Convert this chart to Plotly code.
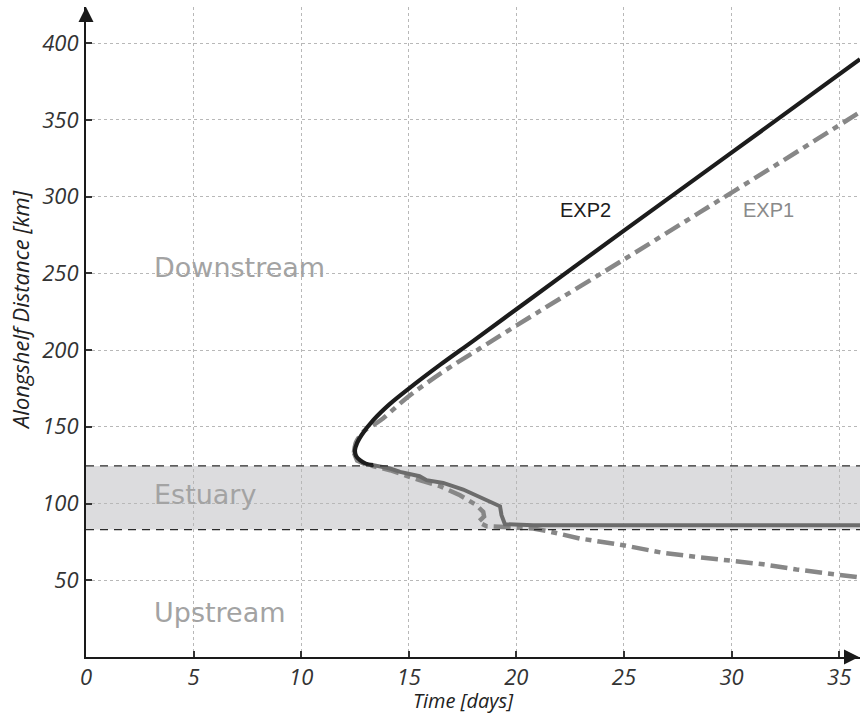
import plotly.graph_objects as go

# ---- data ----
exp2_upper_t = [13.35, 13.0, 12.73, 12.55, 12.5, 12.6, 12.8, 13.35, 14.1, 15.06, 16.45, 18.0, 20.48, 25.0, 30.0, 35.97]
exp2_upper_d = [125.0, 126.0, 128.2, 131.0, 134.7, 139.5, 144.5, 154.3, 164.6, 175.5, 190.3, 206.0, 231.5, 277.8, 328.6, 389.5]

exp2_lower_t = [13.35, 14.13, 14.6, 15.5, 15.83, 16.6, 17.53, 18.3, 19.24, 19.31, 19.47, 20.78, 35.97]
exp2_lower_d = [125.0, 122.8, 120.6, 117.8, 115.2, 113.4, 109.1, 104.3, 98.2, 92.4, 86.5, 85.9, 85.9]

exp1_upper_t = [12.45, 12.55, 12.9, 13.4, 13.8, 14.9, 16.45, 18.3, 21.1, 25.0, 28.5, 32.0, 35.97]
exp1_upper_d = [133.0, 140.0, 147.0, 151.5, 155.4, 168.8, 184.5, 201.0, 225.5, 259.0, 289.5, 320.0, 355.0]

exp1_lower_t = [12.45, 12.6, 13.0, 13.5, 14.13, 15.5, 16.45, 17.38, 18.15, 18.46, 18.5, 18.23, 18.62, 19.24, 20.78,
                21.4, 22.95, 24.97, 26.83, 28.38, 30.08, 31.47, 33.02, 34.57, 35.97]
exp1_lower_d = [133.0, 128.0, 125.5, 124.0, 121.7, 115.2, 111.3, 105.4, 98.9, 94.5, 91.5, 88.0, 85.2, 84.8, 83.7,
                82.2, 77.2, 72.8, 67.8, 65.2, 62.6, 60.4, 57.0, 53.9, 51.8]

estuary_bounds = [83.0, 124.5]
x_ticks = [0, 5, 10, 15, 20, 25, 30, 35]
y_ticks = [50, 100, 150, 200, 250, 300, 350, 400]
region_labels = ["Downstream", "Estuary", "Upstream"]
region_y = [254, 106, 29]
series_labels = ["EXP2", "EXP1"]

X_MAX = 35.97
Y_MAX = 423.5

fig = go.Figure()

dashdot = "17px,6px,6px,6px"
fig.add_trace(go.Scatter(x=exp1_lower_t, y=exp1_lower_d, mode="lines",
                         line=dict(color="#878787", width=4.5, dash=dashdot), hoverinfo="skip"))
fig.add_trace(go.Scatter(x=exp1_upper_t, y=exp1_upper_d, mode="lines",
                         line=dict(color="#878787", width=4.5, dash=dashdot, shape="spline", smoothing=0.8), hoverinfo="skip"))
fig.add_trace(go.Scatter(x=exp2_lower_t, y=exp2_lower_d, mode="lines",
                         line=dict(color="#6c6c6c", width=4), hoverinfo="skip"))
fig.add_trace(go.Scatter(x=exp2_upper_t, y=exp2_upper_d, mode="lines",
                         line=dict(color="#1c1c1c", width=4.2, shape="spline", smoothing=0.8), hoverinfo="skip"))

# estuary band
fig.add_shape(type="rect", xref="x", yref="y", x0=0, x1=X_MAX, y0=estuary_bounds[0], y1=estuary_bounds[1],
              fillcolor="#dcdcde", line=dict(width=0), layer="below")
for yb in estuary_bounds:
    fig.add_shape(type="line", xref="x", yref="y", x0=0, x1=X_MAX, y0=yb, y1=yb,
                  line=dict(color="#2a2a2a", width=1.3, dash="8px,6px"), layer="above")

font_hand = "DejaVu Sans"
for lab, yy in zip(region_labels, region_y):
    fig.add_annotation(x=3.05, y=yy, xref="x", yref="y", text=lab, showarrow=False, xanchor="left",
                       font=dict(family=font_hand, size=27, color="#a3a3a3"))

fig.add_annotation(x=23.2, y=291, xref="x", yref="y", text=series_labels[0], showarrow=False,
                   font=dict(family="Liberation Sans", size=20, color="#1c1c1c"))
fig.add_annotation(x=31.7, y=291, xref="x", yref="y", text=series_labels[1], showarrow=False,
                   font=dict(family="Liberation Sans", size=20, color="#8a8a8a"))

# axis arrows
fig.add_annotation(x=1, y=0, xref="paper", yref="paper", ax=-16, ay=0, text="", showarrow=True,
                   arrowhead=2, arrowsize=1.5, arrowwidth=2, arrowcolor="#1a1a1a")
fig.add_annotation(x=0, y=1, xref="paper", yref="paper", ax=0, ay=16, text="", showarrow=True,
                   arrowhead=2, arrowsize=1.5, arrowwidth=2, arrowcolor="#1a1a1a")

# axis titles
PW, PH = 860 - 86, 650
fig.add_annotation(x=(463 - 86) / PW, y=-43 / PH, xref="paper", yref="paper",
                   text="Time [days]", showarrow=False, xanchor="center", yanchor="middle",
                   font=dict(family="Open Sans", size=20, color="#222222", style="italic"))
fig.add_annotation(x=-66 / PW, y=(657 - 310) / PH, xref="paper", yref="paper",
                   text="Alongshelf Distance [km]", showarrow=False, textangle=-90,
                   xanchor="center", yanchor="middle",
                   font=dict(family="Open Sans", size=22, color="#222222", style="italic"))

tick_font = dict(family="Open Sans", size=22, color="#333333", style="italic")
axis_common = dict(showline=True, linecolor="#1a1a1a", linewidth=2, ticks="inside", ticklen=6,
                   tickwidth=1.5, tickcolor="#333333", showgrid=True, gridcolor="#b8b8b8",
                   griddash="dot", gridwidth=1, zeroline=False, tickfont=tick_font,
                   fixedrange=True)

fig.update_xaxes(range=[0, X_MAX], tickvals=x_ticks, ticktext=[str(v) for v in x_ticks],
                 ticklabelstandoff=0, **axis_common)
fig.update_yaxes(range=[0, Y_MAX], tickvals=y_ticks, ticktext=[str(v) for v in y_ticks],
                 ticklabelstandoff=1, **axis_common)

fig.update_layout(width=860, height=715, margin=dict(l=86, r=0, t=7, b=58),
                  plot_bgcolor="white", paper_bgcolor="white", showlegend=False)

fig.write_html("out.html")
